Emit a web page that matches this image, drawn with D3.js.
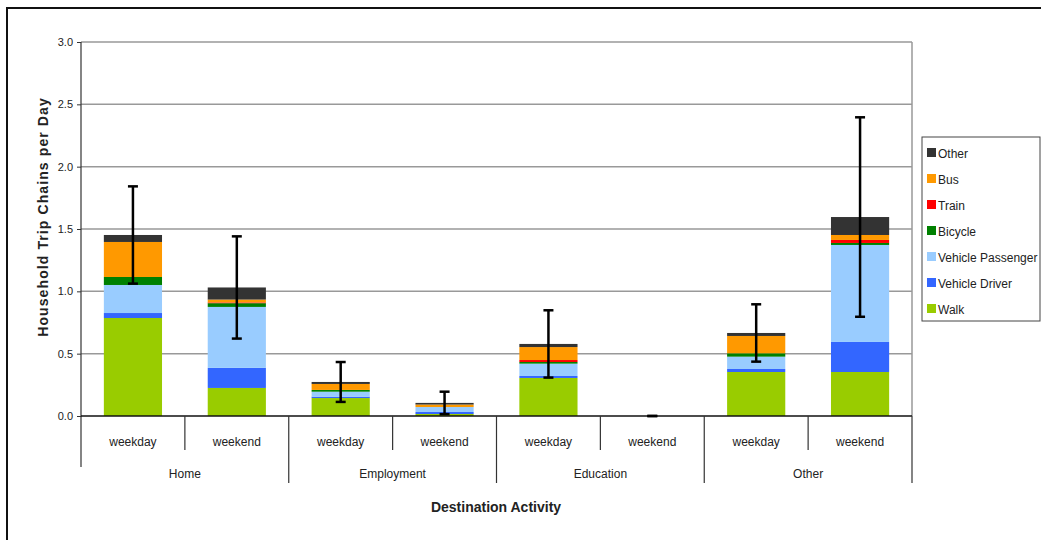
<!DOCTYPE html>
<html>
<head>
<meta charset="utf-8">
<script src="https://cdn.jsdelivr.net/npm/d3@7/dist/d3.min.js"></script>
<style>
  html, body { margin: 0; padding: 0; background: #fff; }
  svg { display: block; }
  text { font-family: "Liberation Sans", Arial, sans-serif; fill: #222; }
</style>
</head>
<body>
<svg id="chart" width="1041" height="540"></svg>
<script>
// Destination activity groups and day types (one bar per combination)
const groups = ["Home", "Employment", "Education", "Other"];
const dayTypes = ["weekday", "weekend"];

// Trip chains per day by travel mode, in bar order:
// Home wd, Home we, Employment wd, Employment we, Education wd, Education we, Other wd, Other we
const walk      = [0.786, 0.225, 0.144, 0.016, 0.305, 0, 0.353, 0.353];
const driver    = [0.040, 0.161, 0.011, 0.016, 0.016, 0, 0.024, 0.241];
const passenger = [0.225, 0.489, 0.040, 0.040, 0.099, 0, 0.099, 0.778];
const bicycle   = [0.064, 0.030, 0.014, 0.000, 0.013, 0, 0.027, 0.016];
const train     = [0.000, 0.006, 0.000, 0.000, 0.016, 0, 0.000, 0.024];
const bus       = [0.281, 0.023, 0.048, 0.020, 0.104, 0, 0.139, 0.040];
const other     = [0.056, 0.097, 0.016, 0.013, 0.025, 0, 0.024, 0.144];

// Half-width of the error bar on each total
const errors = [0.39, 0.41, 0.16, 0.09, 0.27, 0.0, 0.23, 0.80];

const yTicks = [0, 0.5, 1.0, 1.5, 2.0, 2.5, 3.0];

const modes = [
  { key: "Walk", values: walk, color: "#99CC00" },
  { key: "Vehicle Driver", values: driver, color: "#3366FF" },
  { key: "Vehicle Passenger", values: passenger, color: "#99CCFF" },
  { key: "Bicycle", values: bicycle, color: "#008000" },
  { key: "Train", values: train, color: "#FF0000" },
  { key: "Bus", values: bus, color: "#FF9900" },
  { key: "Other", values: other, color: "#333333" }
];

// Build rows for the stack layout
const rows = [];
groups.forEach((g, gi) => dayTypes.forEach((d, di) => {
  const i = gi * dayTypes.length + di;
  const row = { id: g + "|" + d, group: g, day: d, err: errors[i] };
  modes.forEach(m => { row[m.key] = m.values[i]; });
  row.total = modes.reduce((s, m) => s + m.values[i], 0);
  rows.push(row);
}));

const svg = d3.select("#chart");
const plotL = 81, plotR = 912, plotT = 42, plotB = 416;

// Outer frame
svg.append("rect")
  .attr("x", 7).attr("y", 8).attr("width", 1100).attr("height", 600)
  .attr("fill", "none").attr("stroke", "#111").attr("stroke-width", 2);

const x = d3.scaleBand().domain(rows.map(r => r.id)).range([plotL, plotR]).padding(0);
const y = d3.scaleLinear().domain([0, 3]).range([plotB, plotT]);

// Gridlines
svg.append("g").selectAll("line").data(yTicks.filter(t => t > 0)).join("line")
  .attr("x1", plotL).attr("x2", plotR)
  .attr("y1", d => y(d)).attr("y2", d => y(d))
  .attr("stroke", "#999").attr("stroke-width", 1.5);

// Plot area right border
svg.append("line")
  .attr("x1", plotR).attr("x2", plotR).attr("y1", plotT).attr("y2", plotB)
  .attr("stroke", "#999").attr("stroke-width", 1.5);

// Stacked bars
const stack = d3.stack().keys(modes.map(m => m.key));
const series = stack(rows);
const barW = x.bandwidth() * 0.56;
svg.append("g").selectAll("g").data(series).join("g")
  .attr("fill", (d, i) => modes[i].color)
  .selectAll("rect").data(d => d).join("rect")
  .attr("x", d => x(d.data.id) + (x.bandwidth() - barW) / 2)
  .attr("width", barW)
  .attr("y", d => y(d[1]))
  .attr("height", d => Math.max(0, y(d[0]) - y(d[1])));

// Y axis
const yAxis = d3.axisLeft(y).tickValues(yTicks).tickFormat(d3.format(".1f")).tickSize(4).tickPadding(4);
const ya = svg.append("g").attr("transform", `translate(${plotL},0)`).call(yAxis);
ya.select(".domain").remove();
ya.selectAll(".tick line").attr("stroke", "#333");
ya.selectAll(".tick text").attr("font-size", 11).attr("fill", "#444")
  .attr("font-family", "Liberation Sans, Arial, sans-serif");
svg.append("line").attr("x1", plotL).attr("x2", plotL).attr("y1", plotT).attr("y2", 467)
  .attr("stroke", "#333").attr("stroke-width", 1.2);

// X axis baseline
svg.append("line").attr("x1", plotL).attr("x2", plotR).attr("y1", plotB).attr("y2", plotB)
  .attr("stroke", "#111").attr("stroke-width", 1.5);

// Category dividers: short between day types, long between groups
rows.forEach((r, i) => {
  if (i === 0) return;
  const xx = x(r.id);
  const isGroup = i % dayTypes.length === 0;
  svg.append("line").attr("x1", xx).attr("x2", xx)
    .attr("y1", plotB).attr("y2", isGroup ? 483 : 450)
    .attr("stroke", "#333").attr("stroke-width", 1.2);
});
svg.append("line").attr("x1", plotR).attr("x2", plotR).attr("y1", plotB).attr("y2", 483)
  .attr("stroke", "#333").attr("stroke-width", 1.2);

// Day type labels
svg.append("g").selectAll("text").data(rows).join("text")
  .attr("x", d => x(d.id) + x.bandwidth() / 2).attr("y", 446)
  .attr("text-anchor", "middle").attr("font-size", 12)
  .text(d => d.day);

// Group labels
svg.append("g").selectAll("text").data(groups).join("text")
  .attr("x", (g, gi) => x(rows[gi * 2].id) + x.bandwidth())
  .attr("y", 478).attr("text-anchor", "middle").attr("font-size", 12)
  .text(g => g);

// Error bars on the totals
const eb = svg.append("g").attr("stroke", "#000").attr("stroke-width", 2.5);
rows.forEach(r => {
  const cx = x(r.id) + x.bandwidth() / 2;
  const hi = y(r.total + r.err), lo = y(Math.max(0, r.total - r.err));
  eb.append("line").attr("x1", cx).attr("x2", cx).attr("y1", hi).attr("y2", lo);
  eb.append("line").attr("x1", cx - 5).attr("x2", cx + 5).attr("y1", hi).attr("y2", hi);
  eb.append("line").attr("x1", cx - 5).attr("x2", cx + 5).attr("y1", lo).attr("y2", lo);
});

// Axis titles
svg.append("text")
  .attr("transform", "translate(48,217) rotate(-90)")
  .attr("text-anchor", "middle").attr("font-size", 14).attr("font-weight", "bold")
  .attr("letter-spacing", 1.1).attr("fill", "#111")
  .text("Household Trip Chains per Day");
svg.append("text")
  .attr("x", 496).attr("y", 512).attr("text-anchor", "middle")
  .attr("font-size", 14).attr("font-weight", "bold").attr("fill", "#111")
  .text("Destination Activity");

// Legend
const lg = svg.append("g");
lg.append("rect").attr("x", 922).attr("y", 137).attr("width", 118).attr("height", 184)
  .attr("fill", "#fff").attr("stroke", "#444").attr("stroke-width", 1);
const legendItems = modes.slice().reverse();
legendItems.forEach((m, i) => {
  const cy = 153 + i * 26;
  lg.append("rect").attr("x", 927).attr("y", cy - 5).attr("width", 9).attr("height", 9).attr("fill", m.color);
  lg.append("text").attr("x", 938).attr("y", cy + 4.5).attr("font-size", 12).attr("fill", "#111")
    .text(m.key);
});
</script>
</body>
</html>
